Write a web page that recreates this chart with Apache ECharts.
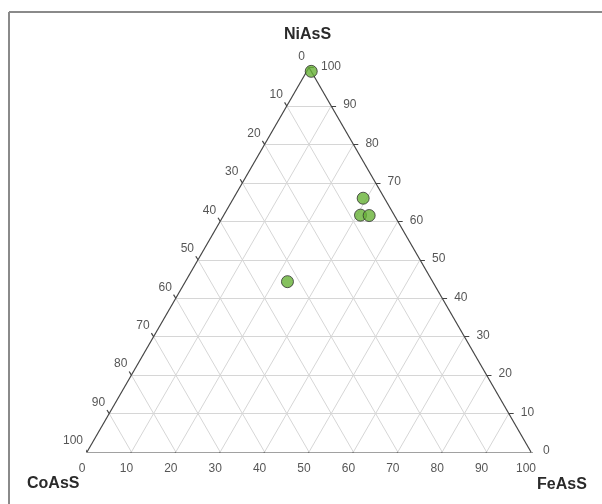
<!DOCTYPE html>
<html>
<head>
<meta charset="utf-8">
<script src="https://cdn.jsdelivr.net/npm/echarts@6/dist/echarts.min.js"></script>
<style>
  html, body { margin: 0; padding: 0; background: #fff; }
  #chart { width: 602px; height: 504px; }
</style>
</head>
<body>
<div id="chart"></div>
<script>
// ternary values (percent)
var tickValues = [0, 10, 20, 30, 40, 50, 60, 70, 80, 90, 100];
var coAsS = [0, 4.8, 7.6, 5.7, 32.7];
var feAsS = [1, 29.2, 30.8, 32.8, 23];
var niAsS = [99, 66, 61.6, 61.5, 44.3];
var vertexNames = ['NiAsS', 'CoAsS', 'FeAsS'];

var S = Math.sqrt(3) / 2;
// ternary -> cartesian (FeAsS right, NiAsS up)
function toXY(co, fe, ni) {
    return [fe + ni / 2, ni * S];
}

var gridLines = [];
var edgeLines = [];
var tickLines = [];
var bottomLabels = [], leftLabels = [], rightLabels = [];

tickValues.forEach(function (k) {
    if (k > 0 && k < 100) {
        gridLines.push({ coords: [toXY(100 - k, 0, k), toXY(0, 100 - k, k)] });
        gridLines.push({ coords: [toXY(100 - k, k, 0), toXY(0, k, 100 - k)] });
        gridLines.push({ coords: [toXY(k, 100 - k, 0), toXY(k, 0, 100 - k)] });
    }
    var b = toXY(100 - k, k, 0);
    var l = toXY(k, 0, 100 - k);
    var r = toXY(0, 100 - k, k);
    tickLines.push({ coords: [b, [b[0] - 0.5, b[1] - 0.8]] });
    tickLines.push({ coords: [l, [l[0] - 0.5, l[1] + 0.8]] });
    tickLines.push({ coords: [r, [r[0] + 1.1, r[1]]] });
    bottomLabels.push([b[0], b[1], k]);
    leftLabels.push([l[0], l[1], k]);
    rightLabels.push([r[0], r[1], k]);
});
edgeLines.push({ coords: [toXY(100, 0, 0), toXY(0, 100, 0)] });
edgeLines.push({ coords: [toXY(0, 100, 0), toXY(0, 0, 100)] });
edgeLines.push({ coords: [toXY(0, 0, 100), toXY(100, 0, 0)] });

var points = coAsS.map(function (c, i) {
    return toXY(c, feAsS[i], niAsS[i]);
});

var chart = echarts.init(document.getElementById('chart'));

function labelSeries(data, label) {
    return {
        type: 'scatter',
        symbolSize: 0,
        silent: true,
        data: data,
        label: Object.assign({
            show: true,
            position: 'inside',
            color: '#2a2a2a',
            fontSize: 12,
            fontFamily: 'Liberation Sans, Arial',
            formatter: function (p) { return p.value[2]; }
        }, label)
    };
}

var option = {
    animation: false,
    grid: { left: 87, right: 71, top: 67.5, bottom: 52 },
    xAxis: { type: 'value', min: 0, max: 100, show: false },
    yAxis: { type: 'value', min: 0, max: 100 * S, show: false },
    graphic: [
        { type: 'line', shape: { x1: 9, y1: 12, x2: 602, y2: 12 }, style: { stroke: '#8a8a8a', lineWidth: 2 } },
        { type: 'line', shape: { x1: 9, y1: 12, x2: 9, y2: 504 }, style: { stroke: '#8a8a8a', lineWidth: 2 } },
        { type: 'text', left: 284, top: 27, style: { text: vertexNames[0], fill: '#2a2a2a', font: 'bold 16px Liberation Sans, Arial' } },
        { type: 'text', left: 27, top: 476, style: { text: vertexNames[1], fill: '#2a2a2a', font: 'bold 16px Liberation Sans, Arial' } },
        { type: 'text', left: 537, top: 477, style: { text: vertexNames[2], fill: '#2a2a2a', font: 'bold 16px Liberation Sans, Arial' } }
    ],
    series: [
        {
            type: 'lines', coordinateSystem: 'cartesian2d', silent: true,
            lineStyle: { color: '#d6d6d6', width: 1, opacity: 1 },
            data: gridLines
        },
        {
            type: 'lines', coordinateSystem: 'cartesian2d', silent: true,
            lineStyle: { color: '#444', width: 1.2, opacity: 1 },
            data: edgeLines.concat(tickLines)
        },
        labelSeries(bottomLabels, { offset: [-5, 17] }),
        labelSeries(leftLabels, { align: 'right', offset: [-4, -11] }),
        labelSeries(rightLabels, { align: 'left', offset: [12, -1] }),
        {
            type: 'scatter',
            symbolSize: 12,
            data: points,
            itemStyle: { color: '#66b136', borderColor: '#2f2f2f', borderWidth: 1 }
        }
    ]
};
chart.setOption(option);
</script>
</body>
</html>
